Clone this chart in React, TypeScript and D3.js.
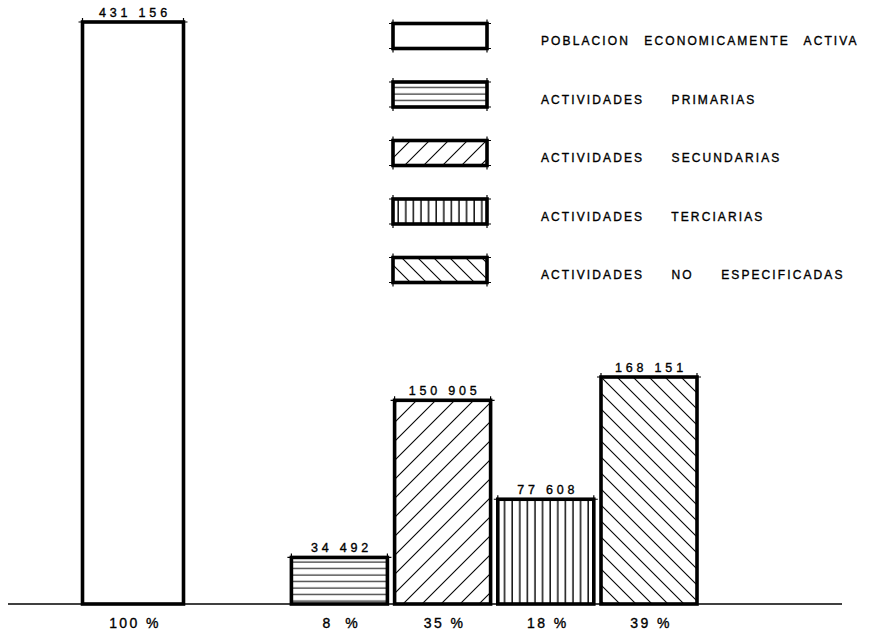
import React from "react";
import * as d3 from "d3";

const categories = ["PEA", "GAP", "PRIMARIAS", "SECUNDARIAS", "TERCIARIAS", "NO_ESPECIFICADAS"];
const barKeys = ["PEA", "PRIMARIAS", "SECUNDARIAS", "TERCIARIAS", "NO_ESPECIFICADAS"];
const values = [431156, 34492, 150905, 77608, 168151];
const valueLabels = ["431 156", "34 492", "150 905", "77 608", "168 151"];
const percentLabels = ["100 %", "8  %", "35 %", "18 %", "39 %"];
const fills = ["none", "hlines", "fdiag", "vlines", "bdiag"];
const legendLabels = [
  "POBLACION ECONOMICAMENTE ACTIVA",
  "ACTIVIDADES PRIMARIAS",
  "ACTIVIDADES SECUNDARIAS",
  "ACTIVIDADES TERCIARIAS",
  "ACTIVIDADES NO ESPECIFICADAS",
];

const W = 873;
const H = 634;
const baseY = 604;
const font = "'Liberation Sans', Arial, sans-serif";

export default function App() {
  const y = d3.scaleLinear().domain([0, 431156]).range([baseY, 22]);
  const x = d3.scalePoint<string>().domain(categories).range([133, 649]);
  const barW = 96;
  const legendY = d3.scalePoint<number>().domain([0, 1, 2, 3, 4]).range([36, 270]);
  const boxX0 = 393, boxX1 = 487, boxH = 25;

  const patFill = (f: string) => (f === "none" ? "#fff" : `url(#${f})`);

  const crossCorners = (x0: number, x1: number, yt: number, yb: number | null, k: string) => {
    const t = 4;
    const els: any[] = [];
    els.push(<line key={k + "a"} x1={x0 - t} x2={x1 + t} y1={yt} y2={yt} stroke="#000" strokeWidth={1.2} />);
    els.push(<line key={k + "b"} x1={x0} x2={x0} y1={yt - t} y2={yt} stroke="#000" strokeWidth={1.2} />);
    els.push(<line key={k + "c"} x1={x1} x2={x1} y1={yt - t} y2={yt} stroke="#000" strokeWidth={1.2} />);
    if (yb !== null) {
      els.push(<line key={k + "d"} x1={x0 - t} x2={x1 + t} y1={yb} y2={yb} stroke="#000" strokeWidth={1.2} />);
      els.push(<line key={k + "e"} x1={x0} x2={x0} y1={yb} y2={yb + t} stroke="#000" strokeWidth={1.2} />);
      els.push(<line key={k + "f"} x1={x1} x2={x1} y1={yb} y2={yb + t} stroke="#000" strokeWidth={1.2} />);
    }
    return els;
  };

  return (
    <svg width={W} height={H} style={{ position: "absolute", left: 0, top: 0, background: "#fff" }}>
      <defs>
        <pattern id="hlines" patternUnits="userSpaceOnUse" width={10} height={6.5}>
          <line x1={0} x2={10} y1={3} y2={3} stroke="#000" strokeWidth={1} />
        </pattern>
        <pattern id="vlines" patternUnits="userSpaceOnUse" width={7.6} height={10}>
          <line x1={3} x2={3} y1={0} y2={10} stroke="#000" strokeWidth={1.4} />
        </pattern>
        <pattern id="fdiag" patternUnits="userSpaceOnUse" width={19} height={19}>
          <line x1={0} y1={19} x2={19} y2={0} stroke="#000" strokeWidth={1.1} />
          <line x1={-5} y1={5} x2={5} y2={-5} stroke="#000" strokeWidth={1.1} />
          <line x1={14} y1={24} x2={24} y2={14} stroke="#000" strokeWidth={1.1} />
        </pattern>
        <pattern id="bdiag" patternUnits="userSpaceOnUse" width={16} height={16}>
          <line x1={0} y1={0} x2={16} y2={16} stroke="#000" strokeWidth={1.1} />
          <line x1={-4} y1={12} x2={4} y2={20} stroke="#000" strokeWidth={1.1} />
          <line x1={12} y1={-4} x2={20} y2={4} stroke="#000" strokeWidth={1.1} />
        </pattern>
      </defs>

      <line x1={8} x2={842} y1={baseY} y2={baseY} stroke="#000" strokeWidth={1.5} />

      {barKeys.map((k, i) => {
        const cx = x(k)!;
        const w = i === 0 ? 101 : barW;
        const x0 = cx - w / 2;
        const x1 = cx + w / 2;
        const yt = y(values[i]);
        return (
          <g key={k}>
            <rect x={x0} y={yt} width={w} height={baseY - yt} fill={patFill(fills[i])} stroke="#000" strokeWidth={3.6} />
            {crossCorners(x0, x1, yt, null, k)}
            <text x={cx + 2} y={yt - 5} textAnchor="middle" fontFamily={font} fontSize={12.5} letterSpacing={3.8} fill="#000" stroke="#000" strokeWidth={0.35}>
              {valueLabels[i]}
            </text>
            <text x={cx + 2} y={628} textAnchor="middle" fontFamily={font} fontSize={14} letterSpacing={2.4} fill="#000" stroke="#000" strokeWidth={0.35} style={{ whiteSpace: "pre" }}>
              {percentLabels[i]}
            </text>
          </g>
        );
      })}

      {legendLabels.map((label, i) => {
        const cy = legendY(i)!;
        const yt = cy - boxH / 2;
        const yb = cy + boxH / 2;
        return (
          <g key={"lg" + i}>
            <rect x={boxX0} y={yt} width={boxX1 - boxX0} height={boxH} fill={patFill(fills[i])} stroke="#000" strokeWidth={3.6} />
            {crossCorners(boxX0, boxX1, yt, yb, "l" + i)}
            <text x={541} y={cy + 9} fontFamily={font} fontSize={12} letterSpacing={2.1} wordSpacing={i === 0 ? 9 : 22} fill="#000" stroke="#000" strokeWidth={0.35}>
              {label}
            </text>
          </g>
        );
      })}
    </svg>
  );
}
